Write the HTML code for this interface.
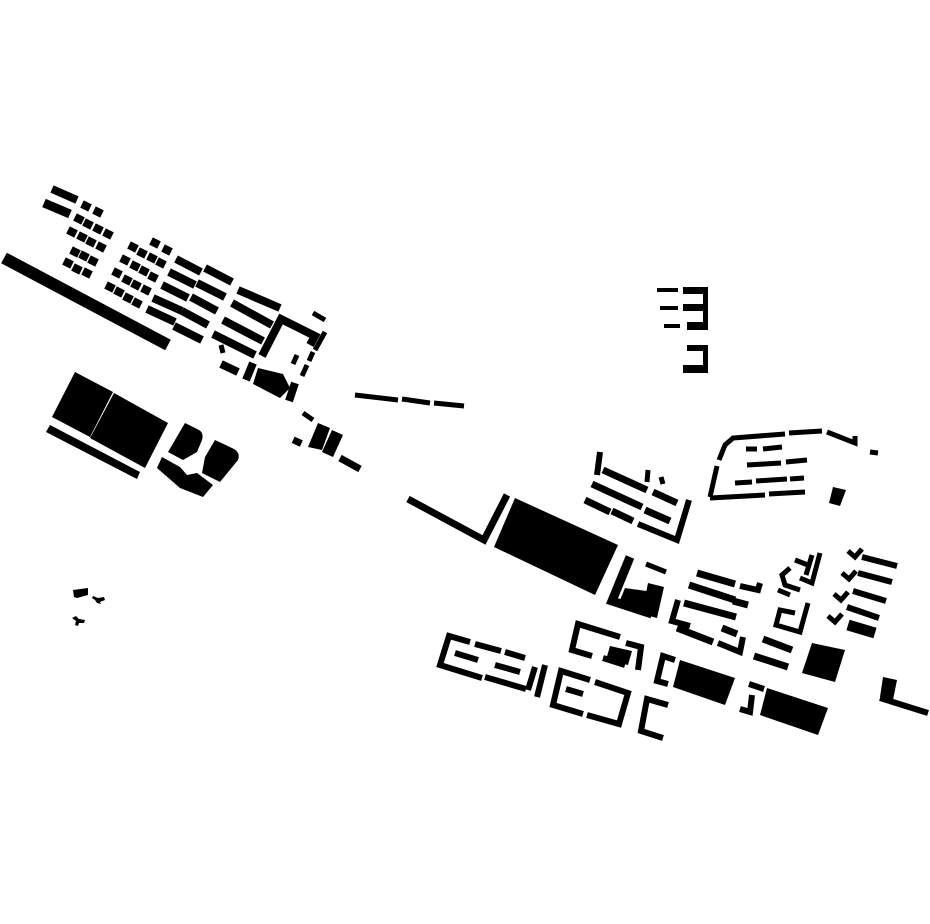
<!DOCTYPE html>
<html><head><meta charset="utf-8"><style>html,body{margin:0;padding:0;background:#fff}svg{display:block}</style></head>
<body>
<svg width="930" height="924" viewBox="0 0 930 924" xmlns="http://www.w3.org/2000/svg">
<g stroke="#000" fill="none" stroke-linecap="butt">
<line x1="52" y1="189" x2="77" y2="200" stroke-width="8"/>
<line x1="44" y1="203" x2="70" y2="214" stroke-width="9"/>
<line x1="4" y1="258" x2="168" y2="345" stroke-width="12"/>
<g stroke-width="8">
<line x1="176" y1="259" x2="201" y2="272"/><line x1="205" y1="268" x2="232" y2="282"/><line x1="238" y1="290" x2="280" y2="308"/>
<line x1="169" y1="272" x2="195" y2="285"/><line x1="197" y1="283" x2="225" y2="297"/><line x1="232" y1="303" x2="272" y2="325"/>
<line x1="162" y1="285" x2="188" y2="298"/><line x1="191" y1="297" x2="217" y2="311"/><line x1="223" y1="320" x2="263" y2="341"/>
<line x1="153" y1="298" x2="182" y2="311"/><line x1="182" y1="311" x2="208" y2="325"/>
<line x1="147" y1="309" x2="175" y2="322"/><line x1="174" y1="326" x2="202" y2="340"/><line x1="213" y1="334" x2="255" y2="355"/>
<polyline points="262,356 281,319 315,336 310,345"/>
<line x1="221" y1="364" x2="238" y2="372"/>
</g>
<!-- small squares as short thick lines -->
<g stroke-width="8">
<line x1="82" y1="204" x2="90" y2="208"/><line x1="94" y1="210" x2="102" y2="214"/>
<line x1="75" y1="217" x2="83" y2="221"/><line x1="84" y1="222" x2="92" y2="226"/><line x1="94" y1="227" x2="102" y2="231"/><line x1="104" y1="232" x2="112" y2="236"/>
<line x1="68" y1="230" x2="76" y2="234"/><line x1="78" y1="235" x2="86" y2="239"/><line x1="87" y1="240" x2="95" y2="244"/><line x1="97" y1="245" x2="105" y2="249"/>
<line x1="71" y1="250" x2="79" y2="254"/><line x1="80" y1="254" x2="88" y2="258"/><line x1="89" y1="259" x2="97" y2="263"/>
<line x1="64" y1="261" x2="72" y2="265"/><line x1="73" y1="267" x2="81" y2="271"/><line x1="83" y1="271" x2="91" y2="275"/>
<line x1="151" y1="241" x2="159" y2="245"/><line x1="163" y1="248" x2="171" y2="252"/>
<line x1="129" y1="245" x2="137" y2="249"/><line x1="138" y1="251" x2="146" y2="255"/><line x1="148" y1="256" x2="156" y2="260"/><line x1="157" y1="261" x2="165" y2="265"/>
<line x1="121" y1="258" x2="129" y2="262"/><line x1="131" y1="264" x2="139" y2="268"/><line x1="140" y1="269" x2="148" y2="273"/><line x1="149" y1="275" x2="157" y2="279"/>
<line x1="113" y1="271" x2="121" y2="275"/><line x1="123" y1="278" x2="131" y2="282"/><line x1="132" y1="283" x2="140" y2="287"/><line x1="142" y1="288" x2="150" y2="292"/>
<line x1="106" y1="285" x2="114" y2="289"/><line x1="115" y1="290" x2="123" y2="294"/><line x1="124" y1="296" x2="132" y2="300"/><line x1="133" y1="301" x2="141" y2="305"/>
</g>
<g stroke-width="5">
<line x1="325" y1="332" x2="315" y2="350"/><line x1="313" y1="352" x2="309" y2="361"/><line x1="307" y1="365" x2="302" y2="376"/><line x1="297" y1="355" x2="293" y2="364"/>
<line x1="313" y1="313" x2="325" y2="320"/><line x1="221" y1="345" x2="223" y2="353"/>
<line x1="295" y1="383" x2="289" y2="401" stroke-width="8"/>
<line x1="303" y1="413" x2="313" y2="420"/>
<line x1="340" y1="458" x2="360" y2="469" stroke-width="7"/>
<line x1="355" y1="395" x2="398" y2="400"/><line x1="402" y1="399" x2="430" y2="403"/><line x1="434" y1="403" x2="464" y2="406"/>
<line x1="253" y1="363" x2="246" y2="380" stroke-width="8"/>
</g>
</g>
<g fill="#000">
<polygon points="258,368 283,374 290,388 280,398 253,384"/>
<polygon points="75,372 113,392 90,437 52,417"/>
<polygon points="114,393 168,423 145,468 90,438"/>
<polygon points="50,425 140,472 137,479 46,432"/>
<path d="M185,423 L199,430 Q204,433 202,440 L197,452 L183,460 L168,452 Z"/>
<path d="M215,440 L232,448 Q241,452 238,460 L220,482 L202,473 L205,457 Z"/>
<polygon points="162,457 180,467 187,475 197,473 213,485 203,497 180,488 157,468"/>
<circle cx="190" cy="466" r="6" fill="#fff"/>
<rect x="293" y="438" width="9" height="7" transform="rotate(25 297 441)"/>
<polygon points="318,423 330,428 322,450 308,447"/>
<polygon points="332,430 343,435 333,457 322,452"/>
<!-- small blobs -->
<polygon points="73,590 88,588 88,595 77,598 74,597"/>
<polygon points="93,596 98,598 104,597 105,600 100,602 101,604 97,603 95,600 92,598"/>
<polygon points="72,618 76,616 79,619 85,620 84,623 79,623 78,626 75,625 76,621"/>
<rect x="657" y="288" width="21" height="4"/><rect x="660" y="306" width="18" height="4"/><rect x="664" y="324" width="16" height="4"/>
<rect x="683" y="287" width="25" height="7"/><rect x="703" y="287" width="5" height="43"/><rect x="683" y="304" width="22" height="7"/><rect x="687" y="322" width="21" height="8"/>
<rect x="687" y="345" width="20" height="6"/><rect x="703" y="345" width="5" height="28"/><rect x="683" y="365" width="24" height="8"/>
<polygon points="515,498 618,545 595,595 494,547"/>
<polygon points="625,588 660,593 652,616 618,605"/>
<polygon points="648,583 664,587 657,618 642,614"/>
<polygon points="833,487 846,490 840,506 829,503"/>
<polygon points="680,660 735,678 725,705 673,687"/>
<polygon points="767,688 828,708 818,735 760,715"/>
<polygon points="812,643 845,650 835,682 802,673"/>
<polygon points="883,677 897,680 893,700 880,697"/>
<polygon points="610,646 632,651 628,665 606,660"/>
</g>
<g stroke="#000" fill="none" stroke-width="7" stroke-linecap="butt" stroke-linejoin="miter">
<polyline points="408,499 484,540 507,495"/>
<line x1="600" y1="452" x2="597" y2="475" stroke-width="6"/>
<line x1="603" y1="470" x2="647" y2="490"/><line x1="648" y1="470" x2="647" y2="482" stroke-width="5"/><line x1="661" y1="477" x2="663" y2="484" stroke-width="5"/>
<line x1="592" y1="484" x2="642" y2="507"/><line x1="653" y1="492" x2="677" y2="503"/>
<line x1="585" y1="500" x2="610" y2="512"/><line x1="612" y1="511" x2="633" y2="521"/><line x1="645" y1="510" x2="670" y2="521"/>
<polyline points="638,524 677,540 689,500" stroke-width="6"/>
<g stroke-width="5">
<polyline points="710,497 717,466"/><polyline points="719,460 725,445 733,438 785,434"/><line x1="789" y1="433" x2="822" y2="431"/>
<polyline points="827,432 855,443 855,436"/>
<line x1="710" y1="498" x2="765" y2="495"/><line x1="769" y1="494" x2="805" y2="492"/>
<line x1="746" y1="449" x2="757" y2="449"/><line x1="763" y1="449" x2="782" y2="447"/>
<line x1="747" y1="465" x2="781" y2="463"/><line x1="786" y1="462" x2="807" y2="460"/>
<line x1="735" y1="483" x2="752" y2="482"/><line x1="756" y1="481" x2="787" y2="479"/><line x1="790" y1="479" x2="804" y2="478"/>
<line x1="870" y1="452" x2="878" y2="453"/>
</g>
<polyline points="630,557 612,601 652,614" stroke-width="9"/>
<line x1="646" y1="564" x2="666" y2="572" stroke-width="5"/>
<line x1="697" y1="573" x2="735" y2="584"/><polyline points="740,586 758,590 760,583" stroke-width="6"/>
<line x1="689" y1="585" x2="735" y2="600"/><line x1="733" y1="601" x2="748" y2="605"/>
<polyline points="678,600 672,621 690,626" stroke-width="6"/><line x1="684" y1="603" x2="736" y2="617"/>
<line x1="677" y1="628" x2="713" y2="642"/><line x1="722" y1="628" x2="737" y2="634"/>
<polyline points="718,643 740,652 743,637" stroke-width="6"/>
<line x1="763" y1="639" x2="792" y2="650"/><line x1="754" y1="656" x2="788" y2="667"/>
<g stroke-width="5">
<polyline points="820,553 812,583 800,578"/><polyline points="812,555 806,575"/>
<polyline points="790,568 782,575 785,585 800,590"/>
<polyline points="795,560 808,565"/>
<polyline points="778,590 790,595"/>
<polyline points="808,603 800,632 776,625 780,610 795,613"/>
<polyline points="848,551 855,557 862,549"/><polyline points="842,573 849,579 856,571"/><polyline points="834,594 841,600 848,592"/><polyline points="828,616 835,622 842,614"/>
</g>
<g stroke-width="6">
<line x1="862" y1="557" x2="897" y2="566"/><line x1="858" y1="573" x2="892" y2="582"/><line x1="853" y1="591" x2="886" y2="601"/><line x1="847" y1="607" x2="879" y2="618"/>
</g>
<line x1="848" y1="625" x2="875" y2="633" stroke-width="11"/>
<line x1="880" y1="698" x2="928" y2="713" stroke-width="6"/>
<g stroke-width="6">
<polyline points="470,642 449,636 440,665 482,678"/><line x1="475" y1="644" x2="501" y2="651"/><line x1="505" y1="652" x2="525" y2="658"/>
<line x1="455" y1="653" x2="478" y2="660"/><line x1="495" y1="665" x2="520" y2="672"/>
<line x1="485" y1="677" x2="526" y2="689"/>
<line x1="535" y1="667" x2="528" y2="690"/><line x1="545" y1="665" x2="537" y2="697"/>
<polyline points="590,680 561,671 553,705 583,714"/><polyline points="595,682 628,693 619,724 587,715"/>
<line x1="566" y1="689" x2="583" y2="694"/>
<polyline points="620,637 578,624 572,650 592,656"/><line x1="603" y1="658" x2="625" y2="665"/>
<polyline points="626,643 641,647 638,670"/>
<polyline points="668,705 647,699 641,731 663,738"/>
<polyline points="675,660 663,656 657,681 668,684"/>
<polyline points="749,684 764,689"/><polyline points="752,695 750,712 740,709"/>
</g>
</g>
</svg>
</body></html>
